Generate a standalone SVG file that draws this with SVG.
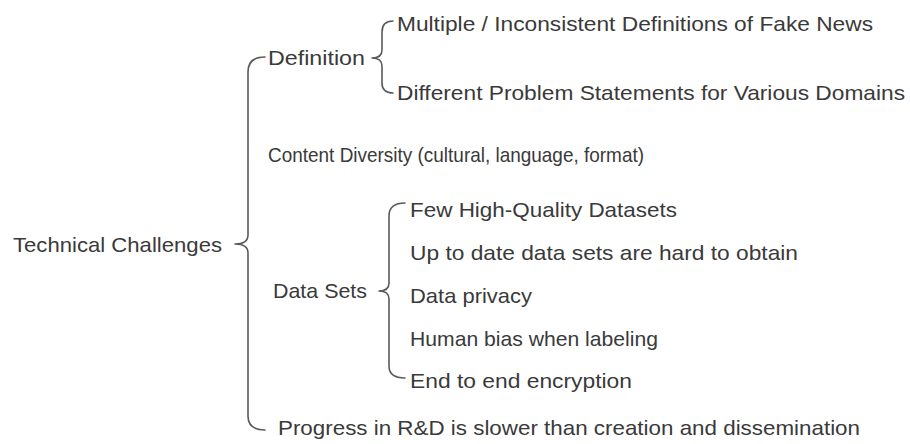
<svg xmlns="http://www.w3.org/2000/svg" width="910" height="444" viewBox="0 0 910 444">
<style>
.t{font-family:"Liberation Sans","Noto Sans",Arial,sans-serif;font-size:21px;fill:#3a3a3a}
.b{fill:none;stroke:#5a5a5a;stroke-width:1.6;stroke-linecap:round;stroke-linejoin:round}
</style>
<rect width="910" height="444" fill="#ffffff"/>
<g id="connectors">
<path class="b" d="M265,57 Q248,57 248,72 L248,235 Q248,244 235,244 Q248,244 248,253 L248,416 Q248,430 265,430"/>
<path class="b" d="M393,21 Q382,21 382,32 L382,50 Q382,58 372,58 Q382,58 382,66 L382,83 Q382,93 393,93"/>
<path class="b" d="M405,203 Q389,203 389,216 L389,283 Q389,291 379,291 Q389,291 389,299 L389,366 Q389,378 405,378"/>
</g>
<g id="root"><text class="t" x="13" y="252" textLength="209" lengthAdjust="spacingAndGlyphs">Technical Challenges</text></g>
<g id="definition"><text class="t" x="268" y="65" textLength="97" lengthAdjust="spacingAndGlyphs">Definition</text></g>
<g id="def-multiple"><text class="t" x="397" y="31" textLength="476" lengthAdjust="spacingAndGlyphs">Multiple / Inconsistent Definitions of Fake News</text></g>
<g id="def-different"><text class="t" x="397" y="100" textLength="508" lengthAdjust="spacingAndGlyphs">Different Problem Statements for Various Domains</text></g>
<g id="content-diversity"><text class="t" x="268" y="162" textLength="376" lengthAdjust="spacingAndGlyphs">Content Diversity (cultural, language, format)</text></g>
<g id="data-sets"><text class="t" x="273" y="298" textLength="94" lengthAdjust="spacingAndGlyphs">Data Sets</text></g>
<g id="ds-few"><text class="t" x="410" y="217" textLength="267" lengthAdjust="spacingAndGlyphs">Few High-Quality Datasets</text></g>
<g id="ds-uptodate"><text class="t" x="410" y="260" textLength="388" lengthAdjust="spacingAndGlyphs">Up to date data sets are hard to obtain</text></g>
<g id="ds-privacy"><text class="t" x="410" y="303" textLength="122" lengthAdjust="spacingAndGlyphs">Data privacy</text></g>
<g id="ds-bias"><text class="t" x="410" y="346" textLength="248" lengthAdjust="spacingAndGlyphs">Human bias when labeling</text></g>
<g id="ds-encryption"><text class="t" x="410" y="388" textLength="222" lengthAdjust="spacingAndGlyphs">End to end encryption</text></g>
<g id="progress"><text class="t" x="278" y="435" textLength="582" lengthAdjust="spacingAndGlyphs">Progress in R&amp;D is slower than creation and dissemination</text></g>
</svg>
